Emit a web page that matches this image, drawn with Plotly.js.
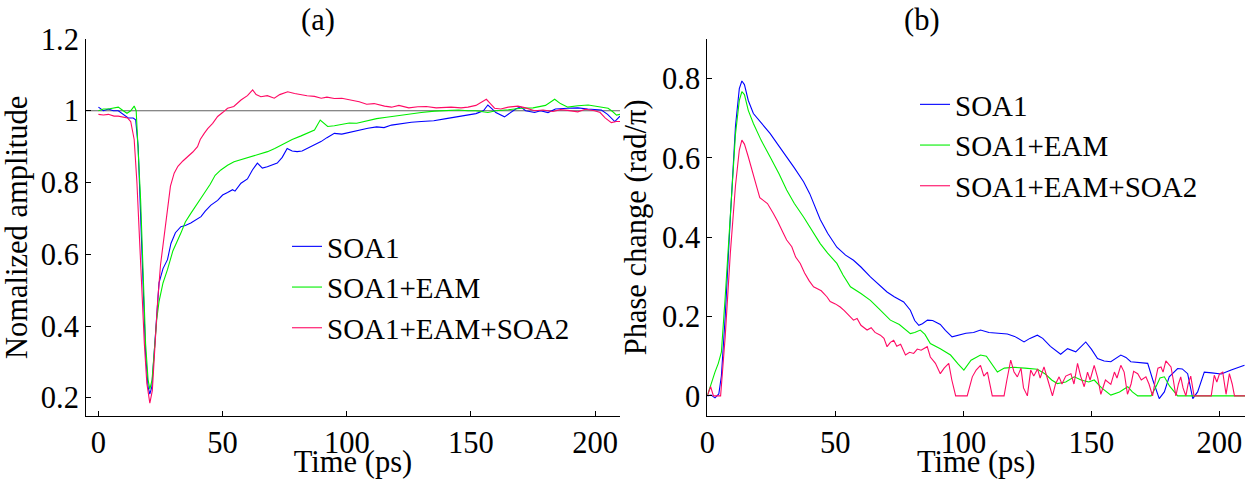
<!DOCTYPE html>
<html>
<head>
<meta charset="utf-8">
<script src="https://cdn.plot.ly/plotly-3.0.1.min.js"></script>
<style>html,body{margin:0;padding:0;background:#fff;}#chart{width:1248px;height:479px;}</style>
</head>
<body>
<div id="chart"></div>
<script>
// ---------- Panel (a): normalized amplitude ----------
const seriesNames = ['SOA1', 'SOA1+EAM', 'SOA1+EAM+SOA2'];
const panelTitles = ['(a)', '(b)'];

const aBlueT = [0,2,4,6,8,10,12,14,15,16,17,18,19,20,20.7,21.5,22.5,23.5,24.4,26,27.8,29.2,31,33.2,35,37.2,39,41.3,43,45.3,48,50,52,54,55,57.4,60,62,64,66,68,70,72,74,76,78,80,82,84,85.6,87,89.6,92,95,98,101,104,108.5,112,115,118,122,126,130,135,140,144,148.8,152,155,156.8,158.5,160,163.5,166,168,170,172,175.6,178,181,184,189,193,197,202.5,205,207.9,210];
const aBlueV = [1.01,1.0,1.005,1.0,1.0,0.99,0.98,0.98,0.975,0.9,0.7,0.5,0.32,0.23,0.21,0.23,0.33,0.46,0.52,0.56,0.585,0.63,0.66,0.677,0.68,0.687,0.695,0.705,0.72,0.737,0.75,0.765,0.772,0.78,0.776,0.798,0.81,0.835,0.854,0.84,0.844,0.848,0.854,0.87,0.895,0.888,0.886,0.888,0.895,0.9,0.906,0.914,0.925,0.937,0.935,0.94,0.945,0.951,0.955,0.953,0.96,0.965,0.968,0.97,0.972,0.978,0.982,0.988,0.992,1.0,1.016,1.005,0.995,0.983,0.995,1.005,1.011,1.0,0.995,1.0,0.995,1.005,1.007,1.008,1.005,1.002,0.99,0.97,0.985];

const aGreenT = [0,2,4,6,8,10,11.5,13,14.4,15.2,16,17,18,19,20,20.7,21.6,22.5,23.5,24.4,26,27.8,30,33.2,35,37.2,40,42.6,45,47,49.3,52,54.6,58,61.4,65,68.1,71,74.8,78,81.6,85,87,89.3,92.3,95,98,101,104,108.5,112,116,122,126,130,135.3,140,145,148.8,152,156.8,160,165,170.3,175,180,183.7,186,189,193,197.2,201,205.2,207,208.6,210];
const aGreenV = [1.0,1.005,1.005,1.008,1.01,1.0,0.993,1.0,1.013,1.0,0.9,0.75,0.55,0.35,0.25,0.224,0.25,0.33,0.42,0.468,0.52,0.557,0.61,0.659,0.69,0.714,0.745,0.77,0.795,0.82,0.835,0.848,0.858,0.865,0.872,0.878,0.886,0.895,0.909,0.92,0.93,0.94,0.946,0.974,0.956,0.958,0.962,0.966,0.965,0.972,0.978,0.982,0.988,0.99,0.995,0.999,1.0,1.002,1.0,1.0,0.995,1.0,1.003,1.007,1.008,1.015,1.032,1.02,1.01,1.014,1.016,1.012,1.007,0.998,0.988,0.99];

const aPinkT = [0,2,4,6.3,8,10,11.7,13,14.4,15.5,16.5,17.5,18.5,19.5,20.7,21.7,22.6,23.8,25,26.5,27.8,29,30.5,32,34,35.9,38,39.9,41,42.6,44,46,48,50,52,54.5,57.4,60,62.1,63.5,65.4,68,70.8,73,76.2,79,81.6,84,87,89.7,92,95,98,101.7,105,108,111,115.2,118,121,125,128.6,132,136,142,146,148.8,152,154.5,156.2,157.8,159.5,162,165,168.9,172,175.6,179,183,186,189,193,196,199.8,202,204,206.5,208.5,210];
const aPinkV = [0.99,0.988,0.99,0.985,0.985,0.983,0.98,0.97,0.92,0.8,0.65,0.48,0.35,0.24,0.185,0.22,0.33,0.465,0.57,0.659,0.733,0.79,0.826,0.845,0.86,0.872,0.885,0.9,0.92,0.937,0.95,0.965,0.984,0.995,1.007,1.012,1.03,1.042,1.058,1.045,1.039,1.042,1.035,1.045,1.053,1.048,1.044,1.042,1.04,1.035,1.038,1.034,1.035,1.03,1.025,1.018,1.02,1.013,1.01,1.015,1.008,1.011,1.012,1.008,1.01,1.008,1.01,1.015,1.025,1.032,1.02,1.007,1.005,1.01,1.013,1.008,1.0,1.002,0.998,1.003,1.001,0.997,1.004,1.0,0.995,0.98,0.967,0.97,0.97];

const refLevel = 1;

// ---------- Panel (b): phase change ----------
const bBlueT = [0,1.5,3,4.5,5.5,7,9,11,12.5,13.5,14.5,16,18,21,24.5,28,31,34,37.6,40,44.1,47,50.6,54,57.1,60,63.7,67,70.2,73,76.7,79.3,81,82.6,84,86,88,91,93,95.6,98,101,104,106.7,110,114,117.2,120,123.7,126,128.9,131,134,138,140.7,143.9,146,147.8,150,152.4,155,157.6,161.5,163.5,165.4,169,172,174,176.5,178.5,180.4,183.7,185.5,187.6,189.6,191.5,194.1,197,200.7,204.6,207,209.8];
const bBlueV = [0,0.002,-0.005,0.005,0.05,0.2,0.45,0.68,0.775,0.794,0.785,0.745,0.712,0.688,0.662,0.63,0.603,0.575,0.54,0.51,0.445,0.41,0.375,0.355,0.342,0.325,0.3,0.28,0.262,0.25,0.237,0.216,0.19,0.178,0.182,0.191,0.19,0.18,0.165,0.149,0.153,0.158,0.16,0.166,0.16,0.158,0.156,0.15,0.136,0.145,0.153,0.145,0.125,0.105,0.119,0.111,0.125,0.136,0.118,0.094,0.088,0.086,0.103,0.097,0.086,0.083,0.082,0.04,-0.007,0.01,0.048,0.069,0.068,0.056,-0.007,0.01,0.06,0.058,0.055,0.065,0.07,0.077];

const bGreenT = [0,1.7,3,4.3,5.5,7,9,11,12.5,13.5,14.5,16,18,21,24.5,28,31,34,37.6,41,44.1,47,50.6,53,55.9,60,63.7,67,71.5,75,79.3,81,83.2,85,87.1,91,95,98,100.2,103,106.7,109,111,113.3,116,119.8,124,128.9,132,134.5,136.7,140,143.3,146,149,151.1,154,157.6,161,164.2,166,168.1,171,173.3,175,176.8,178.5,180.5,183.7,190,200,210];
const bGreenV = [0,0.035,0.06,0.082,0.11,0.25,0.47,0.66,0.745,0.767,0.76,0.72,0.687,0.645,0.603,0.56,0.519,0.485,0.451,0.415,0.384,0.36,0.334,0.305,0.275,0.258,0.241,0.22,0.191,0.18,0.157,0.16,0.166,0.155,0.132,0.119,0.103,0.08,0.065,0.09,0.103,0.1,0.08,0.06,0.07,0.072,0.07,0.067,0.055,0.04,0.031,0.035,0.048,0.04,0.035,0.04,0.02,0.002,0.01,0.023,0.01,0,0,0,0.02,0.045,0.048,0.025,0,0,0,0];

const bPinkT = [0,1.3,2.4,3.5,5.2,7,9,11,12.5,13.5,14.5,16,17.5,19.3,20.5,21.9,23.5,25.8,27.5,29.7,31,33,34.5,36.3,38,39.8,41.5,43,44.5,46.7,48,50,51.9,53.5,55,57.1,58.5,60,62.4,64,65.5,67.6,69,70.2,71.5,72.8,74,75.5,77.4,79,80.6,82,83.5,85.9,87.1,89.1,91,92.5,94.3,95.5,97,99,101.5,103.5,105,106.7,108,109.4,110.5,111.3,113,115.9,117,118.5,119.8,121.1,122.5,123.5,125,126.3,127.5,129,130,131.5,133,134.8,136,137.4,138.5,140,142,143.2,144.6,145.8,147.2,148.5,149.5,151.1,152.5,153.7,155.5,157.6,159,160,161.5,162.8,164.1,165.5,166.5,168.1,169.5,171.3,172.5,173.9,175,176,177.2,178,179.1,180,181.1,182,183,184,184.9,185.8,186.9,187.8,188.8,190.1,193,196.8,198,199,200,201.3,202.6,203.9,205,205.9,208,210];
const bPinkV = [0,0.023,0,0,0,0.15,0.36,0.53,0.62,0.645,0.635,0.603,0.565,0.527,0.5,0.494,0.485,0.46,0.44,0.41,0.393,0.376,0.35,0.334,0.31,0.29,0.275,0.27,0.265,0.25,0.238,0.232,0.224,0.215,0.205,0.191,0.195,0.178,0.166,0.172,0.16,0.153,0.145,0.124,0.135,0.14,0.125,0.13,0.103,0.11,0.107,0.118,0.115,0.124,0.098,0.082,0.056,0.07,0.082,0.04,0,0,0,0.048,0.065,0.077,0.05,0.06,0.03,0,0,0,0.04,0.09,0.06,0.048,0.07,0.02,0,0.065,0.05,0.068,0.045,0.073,0.04,0,0.03,0.048,0.03,0.05,0.056,0.03,0.082,0.05,0.023,0.06,0.04,0.077,0.045,0.004,0.04,0.029,0.06,0.045,0.077,0.06,0.004,0.03,0.062,0.056,0.04,0.048,0.03,0,0.04,0.07,0.073,0.06,0.088,0.08,0.073,0.04,0,0.03,0.048,0.02,0,0.03,0.05,0,0,0,0.052,0.035,0.055,0.06,0.004,0.056,0.03,0,0,0];

const colors = ['#0000ff', '#00ee00', '#ff0a64'];
const FONT = '"Liberation Serif", "Times New Roman", serif';
const FS = 30.5;
const LFS = 29;

function tr(x, y, i, xa, ya, leg) {
  return {x: x, y: y, type: 'scatter', mode: 'lines', name: seriesNames[i],
          xaxis: xa, yaxis: ya, legend: leg,
          line: {color: colors[i], width: 1.1}};
}

const data = [
  tr(aBlueT, aBlueV, 0, 'x', 'y', 'legend'),
  tr(aGreenT, aGreenV, 1, 'x', 'y', 'legend'),
  tr(aPinkT, aPinkV, 2, 'x', 'y', 'legend'),
  tr(bBlueT, bBlueV, 0, 'x2', 'y2', 'legend2'),
  tr(bGreenT, bGreenV, 1, 'x2', 'y2', 'legend2'),
  tr(bPinkT, bPinkV, 2, 'x2', 'y2', 'legend2')
];

const W = 1248, H = 479;
function axBase() {
  return {
    showline: true, linecolor: '#000', linewidth: 1, mirror: false,
    showgrid: false, zeroline: false, ticks: 'inside', ticklen: 5, tickwidth: 1,
    tickcolor: '#000',
    tickfont: {family: FONT, size: FS, color: '#000'}
  };
}

const layout = {
  width: W, height: H,
  margin: {l: 0, r: 0, t: 0, b: 0},
  paper_bgcolor: '#fff', plot_bgcolor: 'rgba(0,0,0,0)',
  font: {family: FONT, size: FS, color: '#000'},
  showlegend: true,
  xaxis: Object.assign(axBase(), {
    domain: [86 / W, 620 / W], range: [-5, 210], anchor: 'y',
    tickvals: [0, 50, 100, 150, 200],
    title: {text: 'Time (ps)', font: {family: FONT, size: FS}, standoff: 4}
  }),
  yaxis: Object.assign(axBase(), {
    domain: [1 - 415.7 / H, 1 - 39 / H], range: [0.15, 1.2], anchor: 'x',
    tickvals: [0.2, 0.4, 0.6, 0.8, 1, 1.2],
    title: {text: 'Nomalized amplitude', font: {family: FONT, size: FS}, standoff: 6}
  }),
  xaxis2: Object.assign(axBase(), {
    domain: [707.3 / W, 1245 / W], range: [0, 210], anchor: 'y2',
    tickvals: [0, 50, 100, 150, 200],
    title: {text: 'Time (ps)', font: {family: FONT, size: FS}, standoff: 4}
  }),
  yaxis2: Object.assign(axBase(), {
    domain: [1 - 415.7 / H, 1 - 39 / H], range: [-0.05, 0.9], anchor: 'x2',
    tickvals: [0, 0.2, 0.4, 0.6, 0.8],
    title: {text: 'Phase change (rad/π)', font: {family: FONT, size: FS}, standoff: 6}
  }),
  legend: {
    x: 287 / W, y: 1 - 221 / H, xanchor: 'left', yanchor: 'top',
    bgcolor: 'rgba(0,0,0,0)', borderwidth: 0, itemwidth: 30,
    font: {family: FONT, size: LFS, color: '#000'}, tracegroupgap: 0
  },
  legend2: {
    x: 915 / W, y: 1 - 79 / H, xanchor: 'left', yanchor: 'top',
    bgcolor: 'rgba(0,0,0,0)', borderwidth: 0, itemwidth: 30,
    font: {family: FONT, size: LFS, color: '#000'}, tracegroupgap: 0
  },
  shapes: [{
    type: 'line', xref: 'x domain', yref: 'y', x0: 0, x1: 1, y0: refLevel, y1: refLevel,
    line: {color: '#606060', width: 1}, layer: 'below'
  }],
  annotations: [
    {text: panelTitles[0], xref: 'paper', yref: 'paper', x: 318 / W, y: 1 - 20 / H,
     xanchor: 'center', yanchor: 'middle', showarrow: false, font: {family: FONT, size: FS, color: '#000'}},
    {text: panelTitles[1], xref: 'paper', yref: 'paper', x: 922 / W, y: 1 - 20 / H,
     xanchor: 'center', yanchor: 'middle', showarrow: false, font: {family: FONT, size: FS, color: '#000'}}
  ]
};

Plotly.newPlot('chart', data, layout, {staticPlot: true, displayModeBar: false});
</script>
</body>
</html>
